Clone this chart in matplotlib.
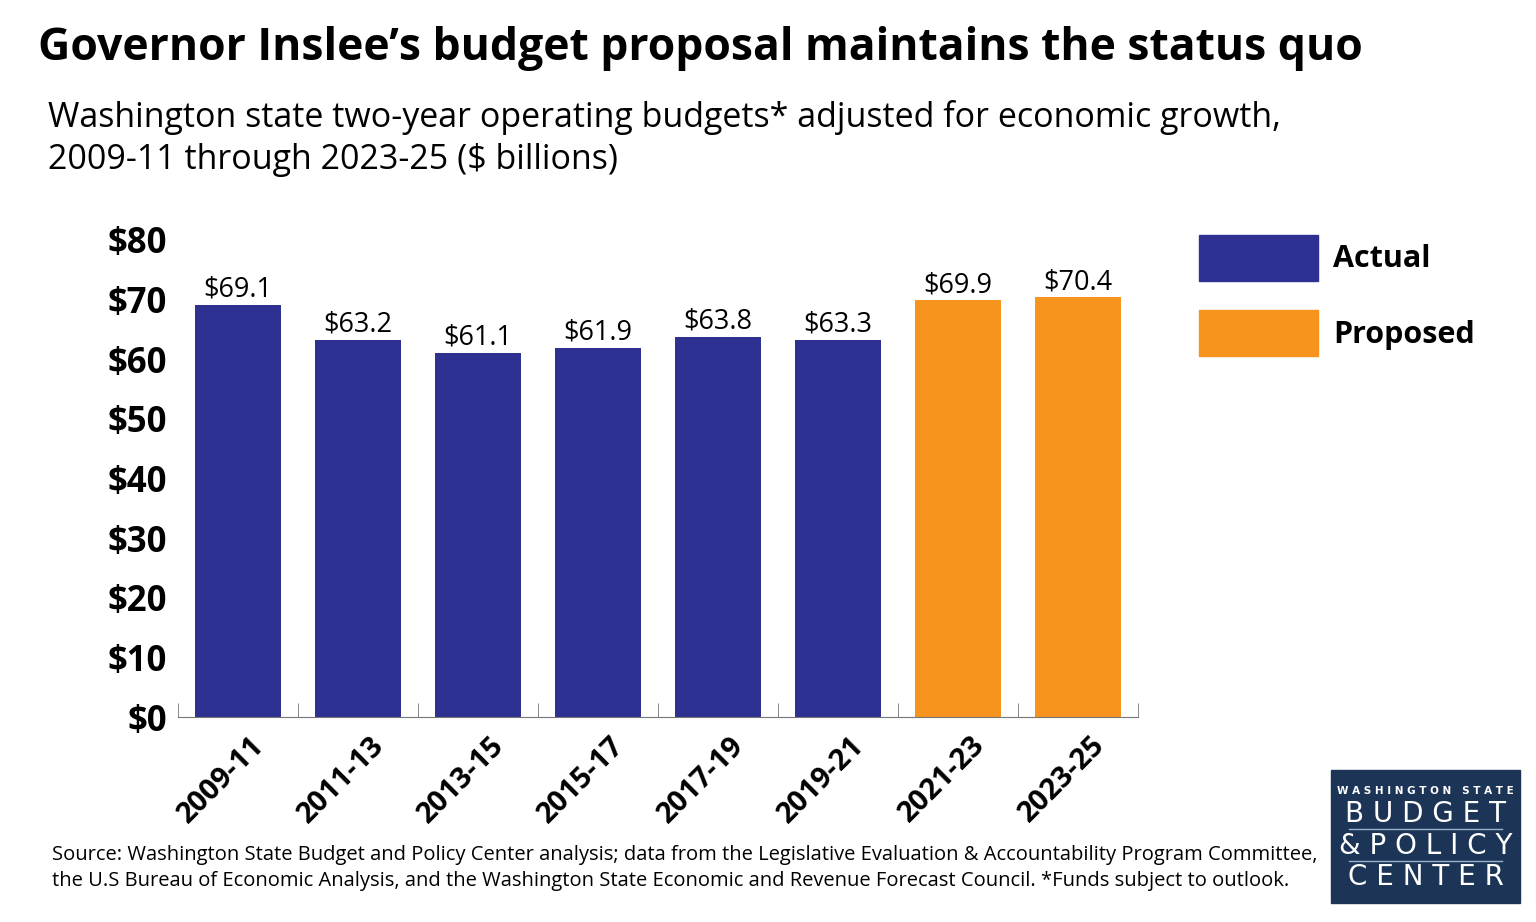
import matplotlib.pyplot as plt
from matplotlib.patches import Rectangle
from matplotlib.lines import Line2D
import matplotlib.transforms as mtransforms
import numpy as np

plt.rcParams['font.family'] = ['Open Sans', 'DejaVu Sans']

periods = ['2009-11', '2011-13', '2013-15', '2015-17', '2017-19', '2019-21', '2021-23', '2023-25']
budget = [69.1, 63.2, 61.1, 61.9, 63.8, 63.3, 69.9, 70.4]
status = ['Actual'] * 6 + ['Proposed'] * 2
y_ticks = [0, 10, 20, 30, 40, 50, 60, 70, 80]

blue = '#2E3192'
orange = '#F7941D'
navy = '#1C3557'

fig = plt.figure(figsize=(15.36, 9.22), dpi=100)
ax = fig.add_axes([0.1159, 0.2223, 0.6250, 0.5174])

x = np.arange(len(periods))
colors = [blue if s == 'Actual' else orange for s in status]
bars = ax.bar(x, budget, width=0.72, color=colors)

for xi, v in zip(x, budget):
    ax.text(xi, v + 0.2, f'${v:.1f}', ha='center', va='bottom', fontsize=19.5)

ax.set_xlim(-0.5, 7.5)
ax.set_ylim(0, 80)
ax.set_yticks(y_ticks)
ax.set_yticklabels([f'${t}' for t in y_ticks], fontsize=25, fontweight='bold')
ax.tick_params(axis='y', length=0, pad=8)

ax.set_xticks(x)
ax.set_xticklabels(periods, rotation=45, ha='right', rotation_mode='anchor',
                   fontsize=21, fontweight='bold')
ax.tick_params(axis='x', which='major', length=0, pad=10)
shift = mtransforms.ScaledTranslation(12 / 100, 0, fig.dpi_scale_trans)
for lab in ax.get_xticklabels():
    lab.set_transform(lab.get_transform() + shift)
ax.set_xticks(np.arange(-0.5, 8, 1), minor=True)
ax.tick_params(axis='x', which='minor', length=10, direction='in', color='#777777')

for s in ['top', 'right', 'left']:
    ax.spines[s].set_visible(False)
ax.spines['bottom'].set_color('#777777')

handles = [Rectangle((0, 0), 1, 1, color=blue), Rectangle((0, 0), 1, 1, color=orange)]
fig.legend(handles, ['Actual', 'Proposed'], loc='upper left', bbox_to_anchor=(0.7725, 0.7585),
           frameon=False, prop={'size': 22, 'weight': 'bold'}, borderaxespad=0,
           handlelength=3.9, handleheight=1.92, handletextpad=0.5, labelspacing=0.97)

fig.text(0.025, 0.947, 'Governor Inslee\u2019s budget proposal maintains the status quo',
         fontsize=32, fontweight='bold', va='center')
fig.text(0.031, 0.873, 'Washington state two-year operating budgets* adjusted for economic growth,',
         fontsize=24.5, va='center')
fig.text(0.031, 0.826, '2009-11 through 2023-25 ($ billions)', fontsize=24.5, va='center')

fig.text(0.034, 0.073, 'Source: Washington State Budget and Policy Center analysis; data from the Legislative Evaluation & Accountability Program Committee,',
         fontsize=14.5, va='center')
fig.text(0.034, 0.045, 'the U.S Bureau of Economic Analysis, and the Washington State Economic and Revenue Forecast Council. *Funds subject to outlook.',
         fontsize=14.5, va='center')

# logo box
lx0, ly0, lw, lh = 1331 / 1536, 1 - 903 / 922, 189 / 1536, 133 / 922
fig.add_artist(Rectangle((lx0, ly0), lw, lh, transform=fig.transFigure, color=navy))
cx = lx0 + lw / 2
fig.text(cx, 1 - 791 / 922, 'W A S H I N G T O N   S T A T E', color='white', fontsize=7.5,
         fontweight='bold', ha='center', va='center', family='DejaVu Sans')
fig.text(cx, 1 - 814 / 922, 'B U D G E T', color='white', fontsize=20, ha='center', va='center',
         family='DejaVu Sans')
fig.text(cx, 1 - 846 / 922, '& P O L I C Y', color='white', fontsize=20, ha='center', va='center',
         family='DejaVu Sans')
fig.text(cx, 1 - 877 / 922, 'C E N T E R', color='white', fontsize=20, ha='center', va='center',
         family='DejaVu Sans')
for yy in [829, 861]:
    fig.add_artist(Line2D([lx0 + 0.012, lx0 + lw - 0.012], [1 - yy / 922] * 2,
                          transform=fig.transFigure, color='#9DB0C8', lw=1))

fig.savefig('out.png', dpi=100, facecolor='white')
